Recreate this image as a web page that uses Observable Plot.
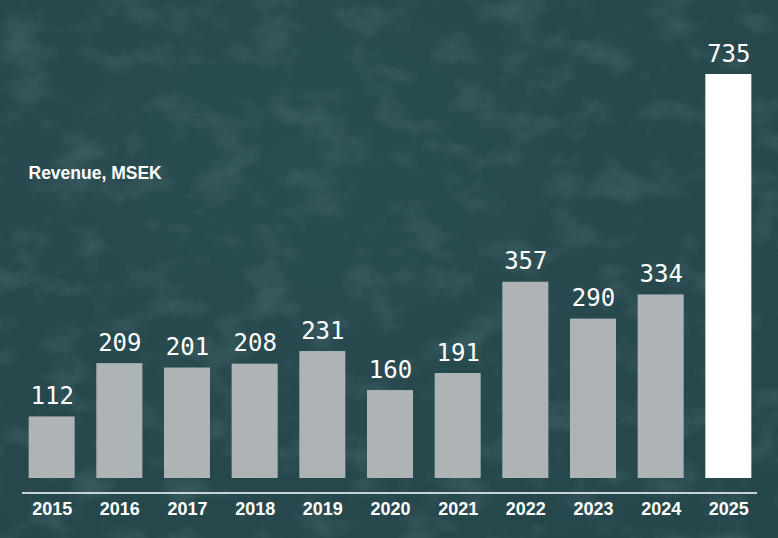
<!DOCTYPE html>
<html>
<head>
<meta charset="utf-8">
<script src="https://cdn.jsdelivr.net/npm/d3@7"></script>
<script src="https://cdn.jsdelivr.net/npm/@observablehq/plot@0.6"></script>
<style>
  html, body { margin: 0; padding: 0; }
  body { width: 778px; height: 538px; overflow: hidden; background: #284a4e; position: relative; }
  #bg { position: absolute; left: 0; top: 0; }
  #chart { position: absolute; left: 0; top: 0; }
</style>
</head>
<body>
<svg id="bg" width="778" height="538">
  <defs>
    <filter id="grain" x="0" y="0" width="100%" height="100%">
      <feTurbulence type="fractalNoise" baseFrequency="0.02 0.03" numOctaves="6" seed="11" result="n"/>
      <feColorMatrix type="matrix" values="0 0 0 0 0.09  0 0 0 0 0.18  0 0 0 0 0.2  0 0 0 -3 1.55" />
    </filter>
    <radialGradient id="glow" cx="0.4" cy="0.3" r="0.85">
      <stop offset="0" stop-color="#2a4d51"/>
      <stop offset="1" stop-color="#25464a"/>
    </radialGradient>
  </defs>
  <rect width="778" height="538" fill="url(#glow)"/>
  <rect width="778" height="538" filter="url(#grain)" opacity="0.35"/>
</svg>
<div id="chart"></div>
<script>
const years = ["2015","2016","2017","2018","2019","2020","2021","2022","2023","2024","2025"];
const revenue = [112, 209, 201, 208, 231, 160, 191, 357, 290, 334, 735];
const highlightYear = "2025";
const title = "Revenue, MSEK";

const data = years.map((year, i) => ({year, value: revenue[i], hi: year === highlightYear}));

const chart = Plot.plot({
  width: 778,
  height: 538,
  marginLeft: 7,
  marginRight: 5,
  marginTop: 74,
  marginBottom: 60,
  style: {background: "transparent", color: "#ffffff", overflow: "visible"},
  x: {domain: years, padding: 0.32, round: false, label: null},
  y: {domain: [0, 735], axis: null},
  marks: [
    Plot.barY(data, {x: "year", y: "value", fill: d => d.hi ? "#ffffff" : "#aeb4b5"}),
    Plot.text(data, {
      x: "year", y: "value", text: d => String(d.value),
      lineAnchor: "bottom", dy: -13,
      fill: "#ffffff", fontSize: 24, fontFamily: "DejaVu Sans Mono"
    }),
    Plot.ruleY([0], {dy: 14.5, stroke: "#ffffff", strokeWidth: 1.5, insetLeft: 15, insetRight: 16}),
    Plot.axisX({
      tickSize: 0, tickPadding: 24, fontSize: 18, fontWeight: "bold",
      fontFamily: "Liberation Sans, Arial, sans-serif", fill: "#ffffff", label: null
    }),
    Plot.text([title], {
      frameAnchor: "top-left", dx: 21, dy: 104, lineAnchor: "bottom", textAnchor: "start",
      fill: "#ffffff", fontSize: 17.5, fontWeight: "bold", fontFamily: "Liberation Sans, Arial, sans-serif"
    })
  ]
});
document.getElementById("chart").appendChild(chart);
</script>
</body>
</html>
